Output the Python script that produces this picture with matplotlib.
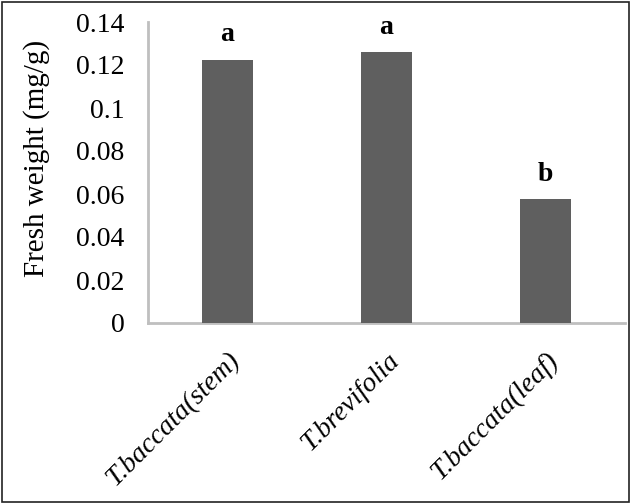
import matplotlib
matplotlib.use("Agg")
import matplotlib.pyplot as plt
from matplotlib.patches import Rectangle
from matplotlib.transforms import ScaledTranslation

categories = ["T.baccata(stem)", "T.brevifolia", "T.baccata(leaf)"]
values = [0.1225, 0.126, 0.0575]
letters = ["a", "a", "b"]
yticks = [0, 0.02, 0.04, 0.06, 0.08, 0.1, 0.12, 0.14]
ytick_labels = ["0", "0.02", "0.04", "0.06", "0.08", "0.1", "0.12", "0.14"]

plt.rcParams['font.family'] = ['Liberation Serif', 'DejaVu Serif']

fig = plt.figure(figsize=(6.31, 5.04), dpi=100)
ax = fig.add_axes([148/631, 1-323/504, (625-148)/631, (323-22)/504])

x = list(range(len(categories)))
ax.bar(x, values, width=0.315, color="#5f5f5f", zorder=3)
for xi, v, l in zip(x, values, letters):
    ax.annotate(l, (xi, v), xytext=(0, 9), textcoords="offset points",
                ha="center", va="bottom", fontsize=20, fontweight="bold")

ax.set_xlim(-0.5, 2.5)
ax.set_ylim(0, 0.14)
ax.set_yticks(yticks)
ax.set_yticklabels(ytick_labels, fontsize=20)
ax.set_xticks(x)
ax.set_xticklabels(categories, rotation=45, ha="right", va="top", rotation_mode="anchor",
                   fontsize=20, style="italic")
shift = ScaledTranslation(-6/72, 0, fig.dpi_scale_trans)
for lab in ax.get_xticklabels():
    lab.set_transform(lab.get_transform() + shift)
ax.tick_params(axis="both", length=0)
ax.tick_params(axis="y", pad=17)
ax.tick_params(axis="x", pad=18)
ax.set_ylabel("Fresh weight (mg/g)", fontsize=21, va="center")
ax.yaxis.set_label_coords(-0.233, 0.548)

for s in ["top", "right"]:
    ax.spines[s].set_visible(False)
for s in ["left", "bottom"]:
    ax.spines[s].set_color("#bfbfbf")
    ax.spines[s].set_linewidth(2)

fig.patches.append(Rectangle((0.003, 0.003), 0.994, 0.994, transform=fig.transFigure,
                             fill=False, edgecolor="#222222", linewidth=1.2))

fig.savefig("out.png", dpi=100)
